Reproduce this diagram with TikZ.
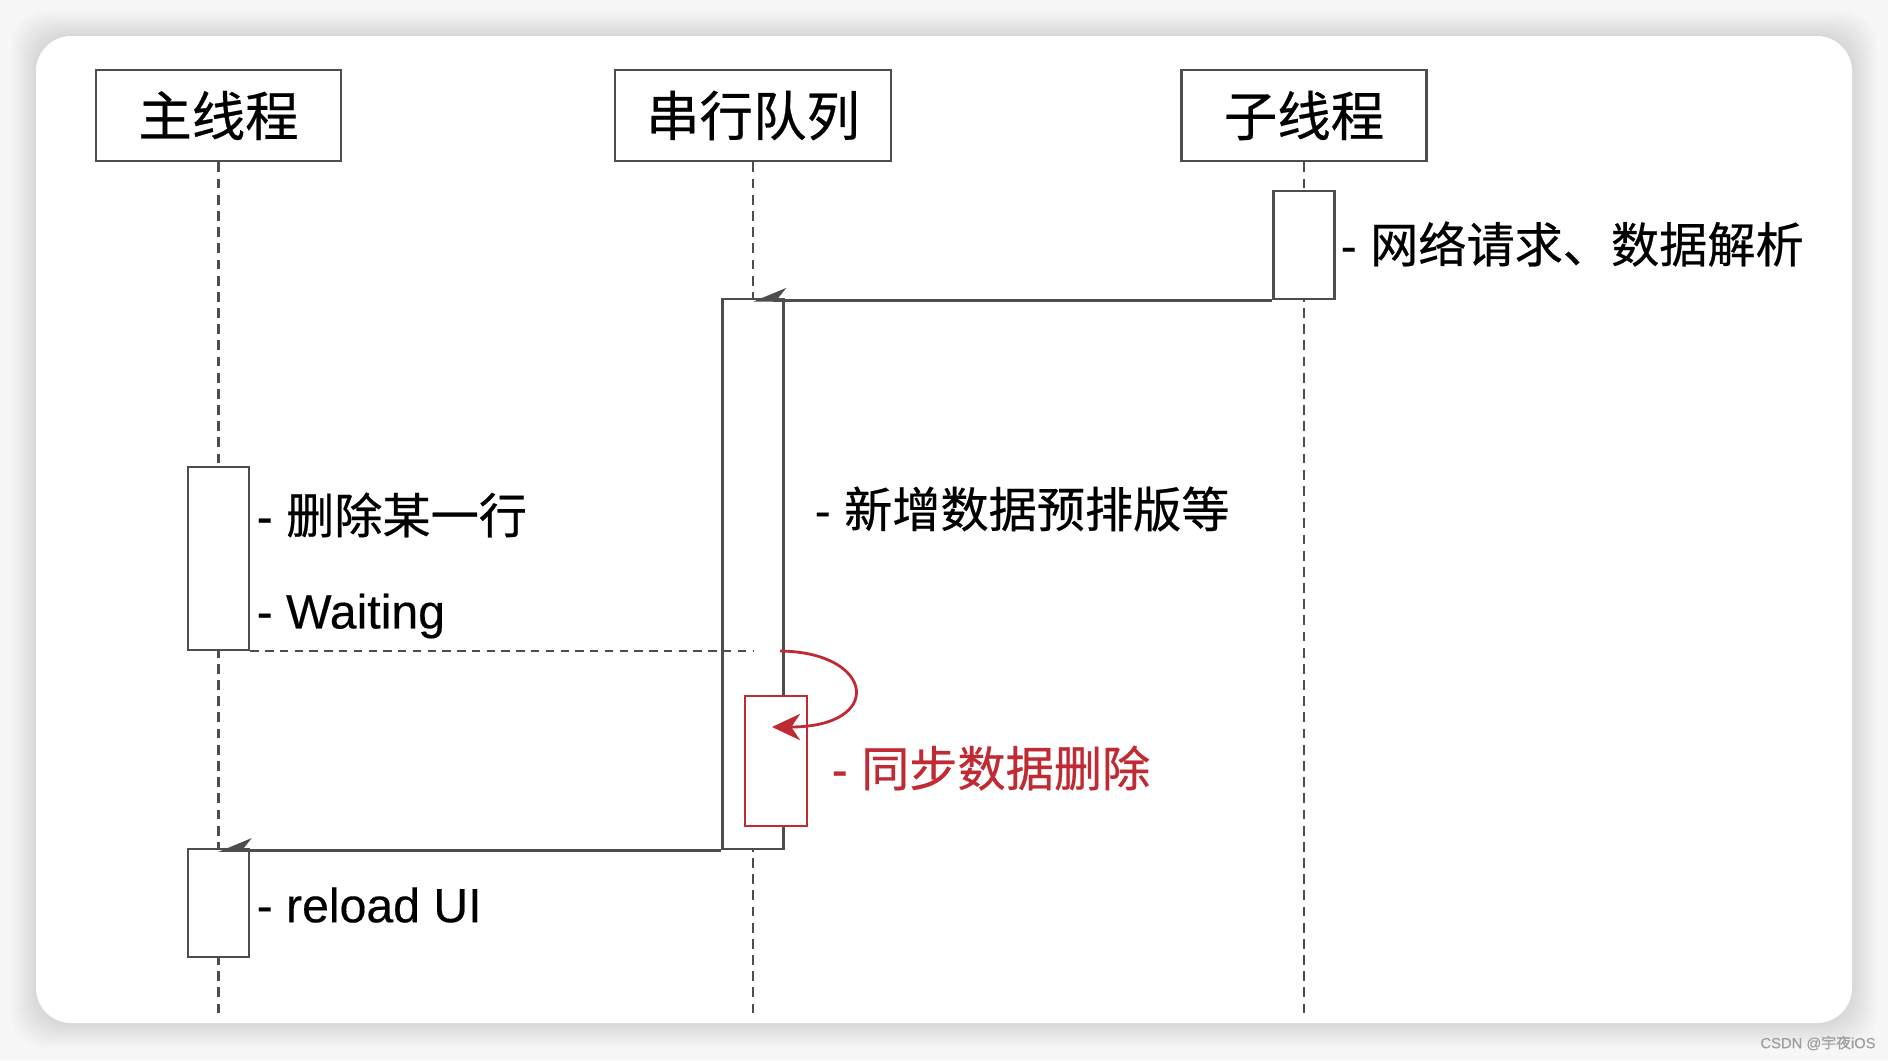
\documentclass[tikz,border=0pt]{standalone}
\usepackage{fontspec}
\setmainfont{Liberation Sans}[FakeBold=0.3]
\newfontfamily\cjk{Noto Sans CJK SC}[FakeBold=0.5]
\usetikzlibrary{positioning,arrows.meta,calc}
\definecolor{lineGray}{HTML}{4D4D4D}
\definecolor{noteRed}{HTML}{BF2A33}
\definecolor{pageGray}{HTML}{F7F7F7}

\begin{document}
\begin{tikzpicture}[
        x=0.01cm, y=-0.01cm,
        headBox/.style={draw=lineGray, line width=0.8pt, fill=white, minimum width=2.45cm, minimum height=0.91cm, inner sep=0pt, font=\cjk\fontsize{15.2}{18}\selectfont},
        actBox/.style={draw=lineGray, line width=0.75pt, fill=white, minimum width=0.61cm, inner sep=0pt},
        lifeLine/.style={draw=lineGray, line width=0.65pt, dash pattern=on 2.8pt off 1.8pt},
        msgArrow/.style={draw=lineGray, line width=0.75pt, -{Stealth[harpoon, swap, length=8.5pt, width=7pt]}},
        noteText/.style={anchor=west, inner sep=0pt, text=black, font=\fontsize{13.7}{16}\selectfont}
    ]
        \useasboundingbox (0,0) rectangle (1888,1060);

        % Page and panel
        \fill[pageGray] (0,0) rectangle (1888,1060);
        \foreach \s in {1,...,10} {
            \fill[black, opacity=0.012, rounded corners=10pt] (36-\s*2.5, 36-\s*2.5) rectangle (1852+\s*2.5, 1023+\s*2.5);
        }
        \fill[white, rounded corners=10pt] (36,36) rectangle (1852,1023);

        % Heads
        \node[headBox] (mainHead) at (218.5,115.5) {主线程};
        \node[headBox, minimum width=2.76cm] (queueHead) at (753,115.5) {串行队列};
        \node[headBox] (subHead) at (1304,115.5) {子线程};

        % Lifelines
        \coordinate (mainEnd) at (218.5,1017);
        \coordinate (queueEnd) at (753,1017);
        \coordinate (subEnd) at (1304,1017);
        \draw[lifeLine] (mainHead.south) -- (mainEnd);
        \draw[lifeLine] (queueHead.south) -- (queueEnd);
        \draw[lifeLine] (subHead.south) -- (subEnd);

        % Activations
        \node[actBox, minimum height=1.08cm] (subAct) at (1304,245) {};
        \node[actBox, minimum height=5.50cm] (queueAct) at (753,574) {};
        \node[actBox, minimum height=1.83cm] (mainAct) at (218.5,558.5) {};
        \node[actBox, minimum height=1.08cm] (reloadAct) at (218.5,903) {};
        \node[actBox, draw=noteRed, minimum width=0.62cm, minimum height=1.30cm] (syncAct) at (776,761) {};

        % Messages
        \draw[msgArrow] (subAct.south west) -- (subAct.south west -| queueAct.north);
        \draw[msgArrow] (queueAct.south west) -- (queueAct.south west -| reloadAct.north);
        \draw[draw=lineGray, line width=0.6pt, dash pattern=on 2.4pt off 1.8pt] (mainAct.south east) -- (mainAct.south east -| queueAct.center);

        % Sync loop
        \coordinate (loopStart) at (780,651);
        \coordinate (loopEnd) at (772,727);
        \draw[noteRed, line width=0.8pt, -{Stealth[length=8pt, width=7.5pt, inset=2.5pt]}] (loopStart) .. controls (875,652) and (885,727) .. (loopEnd);

        % Notes
        \node[noteText] (netNote) at (1340,244) {- {\cjk 网络请求、数据解析}};
        \node[noteText] (delNote) at (256,515) {- {\cjk 删除某一行}};
        \node[noteText] (waitNote) at (256,616) {- Waiting};
        \node[noteText] (layoutNote) at (814,509) {- {\cjk 新增数据预排版等}};
        \node[noteText, text=noteRed] (syncNote) at (831,768) {- {\cjk 同步数据删除}};
        \node[noteText] (reloadNote) at (256,905) {- reload UI};

        % Watermark
        \node[inner sep=0pt, text=gray!75, font=\fontsize{4.2}{5}\selectfont] (mark) at (1818,1043) {CSDN @{\cjk 宇夜}iOS};
    \end{tikzpicture}
\end{document}
